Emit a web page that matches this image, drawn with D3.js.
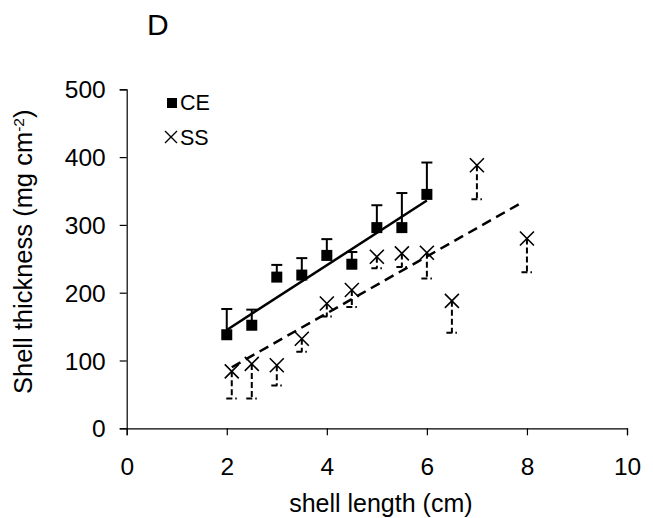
<!DOCTYPE html>
<html>
<head>
<meta charset="utf-8">
<script src="https://cdn.jsdelivr.net/npm/d3@7"></script>
<style>
  html, body { margin: 0; padding: 0; background: #fff; }
  svg { display: block; }
  text { font-family: Arial, "Liberation Sans", sans-serif; fill: #000; }
</style>
</head>
<body>
<svg id="chart" width="653" height="518"></svg>
<script>
// ---- data ----
const ceLength = [2, 2.5, 3, 3.5, 4, 4.5, 5, 5.5, 6];
const ceThickness = [138, 152, 223, 226, 255, 242, 296, 296, 345];
const ceError = [38, 23, 18, 25, 24, 18, 33, 51, 47];

const ssLength = [2.1, 2.5, 3, 3.5, 4, 4.5, 5, 5.5, 6, 6.5, 7, 8];
const ssThickness = [84, 95, 93, 132, 184, 204, 253, 258, 259, 188, 388, 280];
const ssError = [40, 51, 30, 19, 19, 25, 17, 20, 38, 47, 50, 50];

const ceTrend = [[2, 145], [6, 336]];
const ssTrend = [[2.1, 90], [7.9, 333]];

const xTicks = [0, 2, 4, 6, 8, 10];
const yTicks = [0, 100, 200, 300, 400, 500];

// ---- layout ----
const svg = d3.select("#chart");
const x = d3.scaleLinear().domain([0, 10]).range([126.7, 627]);
const y = d3.scaleLinear().domain([0, 500]).range([428.3, 89.3]);

// axes
const xAxis = d3.axisBottom(x).tickValues(xTicks).tickSize(7).tickFormat(d3.format("d"));
const yAxis = d3.axisLeft(y).tickValues(yTicks).tickSize(7).tickFormat(d3.format("d"));

const gx = svg.append("g").attr("transform", `translate(0,${y(0)})`).call(xAxis);
const gy = svg.append("g").attr("transform", `translate(${x(0)},0)`).call(yAxis);
[gx, gy].forEach(g => {
  g.select(".domain").attr("stroke", "#000").attr("stroke-width", 1.2);
  g.selectAll(".tick line").attr("stroke", "#000").attr("stroke-width", 1.2);
  g.selectAll(".tick text").style("font-size", "24.5px").style("font-family", "Arial, 'Liberation Sans', sans-serif").attr("fill", "#000");
});
gx.selectAll(".tick text").attr("dy", "0").attr("y", 47);
gy.selectAll(".tick text").attr("x", -21).attr("dy", "0.35em");

// axis titles
svg.append("text")
  .attr("x", (x(0) + x(10)) / 2 + 4).attr("y", 512)
  .attr("text-anchor", "middle").style("font-size", "25px")
  .text("shell length (cm)");

const yl = svg.append("text")
  .attr("transform", `translate(32,${(y(0) + y(500)) / 2 - 7}) rotate(-90)`)
  .attr("text-anchor", "middle").style("font-size", "25.5px");
yl.append("tspan").text("Shell thickness (mg cm");
yl.append("tspan").attr("baseline-shift", "super").style("font-size", "15.5px").text("-2");
yl.append("tspan").text(")");

svg.append("text").attr("x", 147).attr("y", 35).style("font-size", "30px").text("D");

// trend lines
const line = d3.line().x(d => x(d[0])).y(d => y(d[1]));
svg.append("path").datum(ceTrend).attr("d", line)
  .attr("fill", "none").attr("stroke", "#000").attr("stroke-width", 2.5);
svg.append("path").datum(ssTrend).attr("d", line)
  .attr("fill", "none").attr("stroke", "#000").attr("stroke-width", 2.5)
  .attr("stroke-dasharray", "10,6");

// CE error bars (upward)
const ce = ceLength.map((l, i) => ({ l, v: ceThickness[i], e: ceError[i] }));
const ceG = svg.append("g");
ceG.selectAll("line.v").data(ce).join("line")
  .attr("x1", d => x(d.l)).attr("x2", d => x(d.l))
  .attr("y1", d => y(d.v)).attr("y2", d => y(d.v + d.e))
  .attr("stroke", "#000").attr("stroke-width", 2);
ceG.selectAll("line.c").data(ce).join("line")
  .attr("x1", d => x(d.l) - 5.5).attr("x2", d => x(d.l) + 5.5)
  .attr("y1", d => y(d.v + d.e)).attr("y2", d => y(d.v + d.e))
  .attr("stroke", "#000").attr("stroke-width", 2);
ceG.selectAll("rect").data(ce).join("rect")
  .attr("x", d => x(d.l) - 5.5).attr("y", d => y(d.v) - 5.5)
  .attr("width", 11).attr("height", 11).attr("fill", "#000");

// SS error bars (downward, dashed)
const ss = ssLength.map((l, i) => ({ l, v: ssThickness[i], e: ssError[i] }));
const ssG = svg.append("g");
ssG.selectAll("line.v").data(ss).join("line")
  .attr("x1", d => x(d.l)).attr("x2", d => x(d.l))
  .attr("y1", d => y(d.v)).attr("y2", d => y(d.v - d.e))
  .attr("stroke", "#000").attr("stroke-width", 2).attr("stroke-dasharray", "6,3");
ssG.selectAll("line.c").data(ss).join("line")
  .attr("x1", d => x(d.l) - 5.5).attr("x2", d => x(d.l) + 5.5)
  .attr("y1", d => y(d.v - d.e)).attr("y2", d => y(d.v - d.e))
  .attr("stroke", "#000").attr("stroke-width", 2).attr("stroke-dasharray", "6,3,1.5");
ssG.selectAll("path").data(ss).join("path")
  .attr("d", d => {
    const cx = x(d.l), cy = y(d.v), r = 7;
    return `M${cx - r},${cy - r}L${cx + r},${cy + r}M${cx - r},${cy + r}L${cx + r},${cy - r}`;
  })
  .attr("fill", "none").attr("stroke", "#000").attr("stroke-width", 1.6);

// legend
svg.append("rect").attr("x", 167).attr("y", 98).attr("width", 10).attr("height", 10).attr("fill", "#000");
svg.append("text").attr("x", 180).attr("y", 110).style("font-size", "21.5px").text("CE");
svg.append("path")
  .attr("d", "M165,131L177,143M165,143L177,131")
  .attr("fill", "none").attr("stroke", "#000").attr("stroke-width", 1.4);
svg.append("text").attr("x", 180).attr("y", 145).style("font-size", "21.5px").text("SS");
</script>
</body>
</html>
